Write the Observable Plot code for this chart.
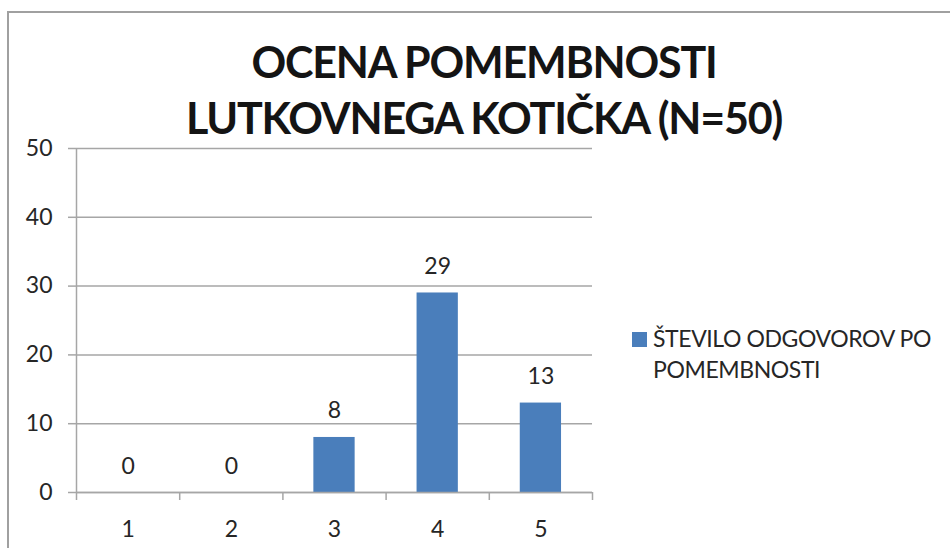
<!DOCTYPE html>
<html>
<head>
<meta charset="utf-8">
<script src="https://cdn.jsdelivr.net/npm/d3@7"></script>
<script src="https://cdn.jsdelivr.net/npm/@observablehq/plot@0.6"></script>
<style>
  html, body { margin: 0; padding: 0; background: #fff; }
  #wrap { position: relative; width: 950px; height: 548px; overflow: hidden; background: #fff; }
  #frame { position: absolute; left: 7px; top: 11px; width: 1000px; height: 600px; border: 2px solid #a0a0a0; box-sizing: border-box; }
  #wrap svg { position: absolute; left: 0; top: 0; }
</style>
</head>
<body>
<div id="wrap"><div id="frame"></div></div>
<script>
const titleLines = ["OCENA POMEMBNOSTI", "LUTKOVNEGA KOTIČKA (N=50)"];
const categories = [1, 2, 3, 4, 5];
const values = [0, 0, 8, 29, 13];
const yTicks = [0, 10, 20, 30, 40, 50];
const seriesName = ["ŠTEVILO ODGOVOROV PO", "POMEMBNOSTI"];

const barColor = "#4a7ebb";
const gridColor = "#a6a6a6";
const textColor = "#262626";

const data = categories.map((c, i) => ({cat: c, value: values[i]}));
const boundaries = [categories[0] - 0.5, ...categories.map(c => c + 0.5)];

const chart = Plot.plot({
  width: 950,
  height: 548,
  marginLeft: 76,
  marginRight: 358,
  marginTop: 148,
  marginBottom: 56,
  style: {fontFamily: "Lato", color: textColor, background: "transparent", overflow: "visible"},
  x: {type: "linear", domain: [0.5, 5.5], axis: null},
  y: {domain: [0, 50], axis: null},
  marks: [
    Plot.gridY(yTicks, {stroke: gridColor, strokeOpacity: 1, strokeWidth: 1.5}),
    Plot.ruleX([0.5], {stroke: gridColor, strokeWidth: 1.5}),
    Plot.rectY(data, {x1: d => d.cat - 0.2, x2: d => d.cat + 0.2, y1: 0, y2: "value", fill: barColor}),
    Plot.ruleY([0], {stroke: gridColor, strokeWidth: 1.5}),
    Plot.axisY({ticks: yTicks, tickSize: 8, tickPadding: 16, fontSize: 23, stroke: gridColor, strokeWidth: 1.5, label: null}),
    Plot.axisX({ticks: boundaries, tickSize: 8, tickFormat: () => "", stroke: gridColor, strokeWidth: 1.5, label: null}),
    Plot.axisX({ticks: categories, tickSize: 0, tickPadding: 28, fontSize: 23, tickFormat: d => String(d), label: null}),
    Plot.text(data, {x: "cat", y: "value", text: d => String(d.value), dy: -19, lineAnchor: "bottom", fontSize: 23, fill: textColor})
  ]
});
document.getElementById("wrap").appendChild(chart);

// Title and legend overlay
const svg = d3.select("#wrap").append("svg")
  .attr("width", 950).attr("height", 548)
  .style("font-family", "Lato");
svg.selectAll("text.title").data(titleLines).join("text")
  .attr("class", "title")
  .attr("x", 484)
  .attr("y", (d, i) => 78 + i * 56)
  .attr("text-anchor", "middle")
  .attr("font-size", 43)
  .attr("font-weight", "bold")
  .attr("letter-spacing", "-1.2px")
  .attr("fill", "#141414")
  .text(d => d);
svg.append("rect").attr("x", 632).attr("y", 332).attr("width", 15).attr("height", 15).attr("fill", barColor);
svg.selectAll("text.leg").data(seriesName).join("text")
  .attr("class", "leg")
  .attr("x", 653)
  .attr("y", (d, i) => 347 + i * 31)
  .attr("font-size", 23)
  .attr("letter-spacing", "-0.4px")
  .attr("fill", textColor)
  .text(d => d);
</script>
</body>
</html>
